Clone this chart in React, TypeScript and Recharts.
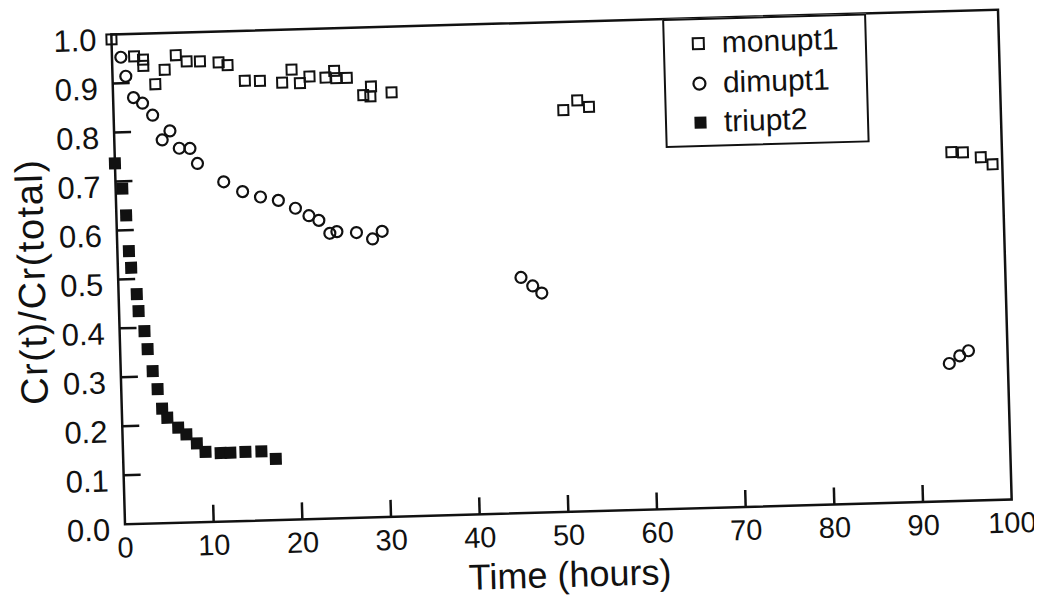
import { ScatterChart, Scatter, XAxis, YAxis, ReferenceArea, Legend, Label } from 'recharts';

// monupt1 (open squares)
const monTime = [0, 2.5, 3.5, 3.5, 4.8, 5.9, 7.2, 8.4, 9.9, 12.0, 13.0, 14.9, 16.6, 19.1, 20.2, 21.1, 22.2, 24.0, 25.0, 25.2, 26.4, 28.2, 29.1, 29.0, 31.4, 50.7, 52.3, 53.6, 94.3, 95.6, 97.6, 98.9];
const monValue = [0.99, 0.954, 0.947, 0.934, 0.896, 0.925, 0.954, 0.941, 0.94, 0.937, 0.931, 0.898, 0.897, 0.892, 0.918, 0.89, 0.903, 0.9, 0.913, 0.898, 0.898, 0.862, 0.879, 0.859, 0.866, 0.82, 0.839, 0.825, 0.712, 0.711, 0.70, 0.685];

// dimupt1 (open circles)
const dimTime = [1.0, 1.5, 2.3, 3.3, 4.4, 6.3, 5.4, 7.3, 8.5, 9.3, 12.2, 14.3, 16.3, 18.3, 20.2, 21.7, 22.8, 24.0, 24.8, 27.0, 28.8, 29.9, 45.4, 46.7, 47.7, 93.4, 94.6, 95.6];
const dimValue = [0.953, 0.914, 0.87, 0.858, 0.833, 0.80, 0.782, 0.764, 0.763, 0.732, 0.693, 0.672, 0.66, 0.652, 0.635, 0.619, 0.609, 0.582, 0.585, 0.582, 0.568, 0.583, 0.481, 0.463, 0.448, 0.281, 0.296, 0.306];

// triupt2 (filled squares)
const triTime = [0, 0.75, 1.1, 1.3, 1.5, 2.05, 2.2, 2.8, 3.1, 3.6, 4.1, 4.55, 5.1, 6.3, 7.2, 8.35, 9.3, 11.0, 12.1, 13.8, 15.6, 17.2];
const triValue = [0.737, 0.685, 0.63, 0.557, 0.523, 0.469, 0.434, 0.393, 0.356, 0.311, 0.274, 0.234, 0.215, 0.194, 0.18, 0.161, 0.143, 0.14, 0.14, 0.141, 0.141, 0.125];

const X_TICKS = [0, 10, 20, 30, 40, 50, 60, 70, 80, 90, 100];
const Y_TICKS = [0, 0.1, 0.2, 0.3, 0.4, 0.5, 0.6, 0.7, 0.8, 0.9, 1.0];

const FONT = '"Liberation Sans", Arial, Helvetica, sans-serif';
const INK = '#111';

const toPoints = (t: number[], v: number[]) => t.map((time, i) => ({ t: time, v: v[i] }));

const monPoints = toPoints(monTime, monValue);
const dimPoints = toPoints(dimTime, dimValue);
const triPoints = toPoints(triTime, triValue);

const OpenSquare = ({ cx, cy }: any) => (
  <rect x={cx - 5} y={cy - 5} width={10} height={10} fill="none" stroke={INK} strokeWidth={2} />
);
const OpenCircle = ({ cx, cy }: any) => (
  <circle cx={cx} cy={cy} r={5.5} fill="none" stroke={INK} strokeWidth={2.2} />
);
const FilledSquare = ({ cx, cy }: any) => (
  <rect x={cx - 6} y={cy - 6} width={12} height={12} fill={INK} />
);

// ticks point into the plot, labels stay outside
const YTick = ({ x, y, payload }: any) => (
  <g>
    {payload.value > 0 && payload.value < 1 && (
      <line x1={x + 15} y1={y} x2={x + 32} y2={y} stroke={INK} strokeWidth={2.5} />
    )}
    <text x={x} y={y + 5} dy="0.35em" textAnchor="end" fontSize={31} fontFamily={FONT} fill={INK}>
      {payload.value.toFixed(1)}
    </text>
  </g>
);

const XTick = ({ x, y, payload }: any) => (
  <g>
    {payload.value > 0 && payload.value < 100 && (
      <line x1={x} y1={y} x2={x} y2={y - 17} stroke={INK} strokeWidth={2.5} />
    )}
    <text x={x} y={y + 23} dy="0.35em" textAnchor="middle" fontSize={29} fontFamily={FONT} fill={INK}>
      {payload.value}
    </text>
  </g>
);

const legendRows = [
  { name: 'monupt1', y: 25, marker: <rect x={7} y={7} width={11} height={11} fill="none" stroke={INK} strokeWidth={2} /> },
  { name: 'dimupt1', y: 65, marker: <circle cx={12.5} cy={12.5} r={6} fill="none" stroke={INK} strokeWidth={2.2} /> },
  { name: 'triupt2', y: 104, marker: <rect x={6.5} y={6.5} width={12} height={12} fill={INK} /> },
];

const renderLegend = () => (
  <div
    style={{
      position: 'relative',
      width: 204,
      height: 129,
      boxSizing: 'border-box',
      border: `2px solid ${INK}`,
      background: '#fff',
      fontFamily: FONT,
      fontSize: 30,
      color: INK,
    }}
  >
    {legendRows.map((row) => (
      <div key={row.name}>
        <svg width={25} height={25} style={{ position: 'absolute', left: 21, top: row.y - 14 }}>
          {row.marker}
        </svg>
        <div style={{ position: 'absolute', left: 57, top: row.y - 20, lineHeight: '36px', whiteSpace: 'nowrap' }}>
          {row.name}
        </div>
      </div>
    ))}
  </div>
);

export default function App() {
  return (
    <div style={{ width: 1026, height: 587, transform: 'rotate(-1.6deg)', transformOrigin: '553.5px 259px' }}>
      <ScatterChart width={1026} height={587} margin={{ top: 14, right: 29, bottom: 3, left: 0 }}>
        <XAxis
          type="number"
          dataKey="t"
          domain={[0, 100]}
          ticks={X_TICKS}
          interval={0}
          axisLine={false}
          tickLine={false}
          tickSize={0}
          tickMargin={0}
          height={80}
          tick={<XTick />}
        >
          <Label value="Time (hours)" position="insideBottom" offset={5} fontSize={36} fontFamily={FONT} fill={INK} />
        </XAxis>
        <YAxis
          type="number"
          dataKey="v"
          domain={[0, 1]}
          ticks={Y_TICKS}
          interval={0}
          axisLine={false}
          tickLine={false}
          tickSize={0}
          tickMargin={15}
          width={110}
          tick={<YTick />}
        >
          <Label
            value="Cr(t)/Cr(total)"
            angle={-90}
            position="insideLeft"
            offset={23}
            fontSize={38}
            fontFamily={FONT}
            fill={INK}
            style={{ textAnchor: 'middle', letterSpacing: 1.5 }}
          />
        </YAxis>
        <ReferenceArea x1={0} x2={100} y1={0} y2={1} fill="none" stroke={INK} strokeWidth={2.5} />
        <Legend
          layout="vertical"
          align="center"
          verticalAlign="middle"
          content={renderLegend}
          wrapperStyle={{ left: 661, top: 14, width: 204 }}
        />
        <Scatter name="monupt1" data={monPoints} shape={<OpenSquare />} isAnimationActive={false} />
        <Scatter name="dimupt1" data={dimPoints} shape={<OpenCircle />} isAnimationActive={false} />
        <Scatter name="triupt2" data={triPoints} shape={<FilledSquare />} isAnimationActive={false} />
      </ScatterChart>
    </div>
  );
}
